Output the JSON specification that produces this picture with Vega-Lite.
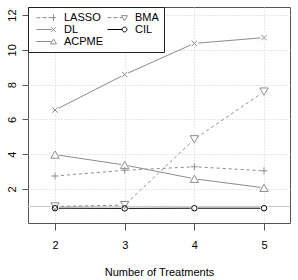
{
  "$schema": "https://vega.github.io/schema/vega-lite/v6.json",
  "width": 262,
  "height": 216,
  "autosize": {"type": "none"},
  "padding": {"left": 28, "top": 7, "right": 8, "bottom": 57},
  "background": "white",
  "config": {
    "font": "Liberation Sans",
    "view": {"stroke": "#555555", "strokeWidth": 1},
    "axis": {"domain": false, "tickColor": "#555555", "labelColor": "black", "labelFontSize": 11, "titleFontSize": 11, "titleFontWeight": "normal", "titleColor": "black", "gridColor": "#d0d0d0", "gridDash": [1, 2], "gridWidth": 1}
  },
  "data": {"values": [
    {"n": 2, "method": "LASSO", "value": 2.75},
    {"n": 3, "method": "LASSO", "value": 3.08},
    {"n": 4, "method": "LASSO", "value": 3.28},
    {"n": 5, "method": "LASSO", "value": 3.05},
    {"n": 2, "method": "BMA", "value": 1.0},
    {"n": 3, "method": "BMA", "value": 1.08},
    {"n": 4, "method": "BMA", "value": 4.86},
    {"n": 5, "method": "BMA", "value": 7.6},
    {"n": 2, "method": "DL", "value": 6.54},
    {"n": 3, "method": "DL", "value": 8.58},
    {"n": 4, "method": "DL", "value": 10.37},
    {"n": 5, "method": "DL", "value": 10.7},
    {"n": 2, "method": "ACPME", "value": 3.98},
    {"n": 3, "method": "ACPME", "value": 3.38},
    {"n": 4, "method": "ACPME", "value": 2.59},
    {"n": 5, "method": "ACPME", "value": 2.07},
    {"n": 2, "method": "CIL", "value": 0.9},
    {"n": 3, "method": "CIL", "value": 0.89},
    {"n": 4, "method": "CIL", "value": 0.9},
    {"n": 5, "method": "CIL", "value": 0.9}
  ]},
  "encoding": {
    "x": {"field": "n", "type": "quantitative", "scale": {"domain": [1.612, 5.373], "nice": false, "zero": false},
      "axis": {"values": [2, 3, 4, 5], "title": "Number of Treatments", "tickSize": 7, "labelPadding": 9, "titlePadding": 16, "grid": true}},
    "y": {"field": "value", "type": "quantitative", "scale": {"domain": [0.05, 12.46], "nice": false, "zero": false},
      "axis": {"values": [2, 4, 6, 8, 10, 12], "title": null, "tickSize": 6, "labelAngle": -90, "labelAlign": "center", "labelBaseline": "bottom", "labelPadding": 5, "grid": true}}
  },
  "layer": [
    {
      "data": {"values": [{"h": 1}]},
      "mark": {"type": "rule", "color": "#c8c8c8", "strokeWidth": 1},
      "encoding": {"y": {"field": "h", "type": "quantitative"}, "x": null}
    },
    {
      "transform": [{"filter": {"field": "method", "oneOf": ["LASSO", "BMA"]}}],
      "mark": {"type": "line", "strokeWidth": 1, "strokeDash": [3, 3]},
      "encoding": {
        "color": {"field": "method", "type": "nominal",
          "scale": {"domain": ["LASSO", "DL", "ACPME", "BMA", "CIL"], "range": ["#8c8c8c", "#8c8c8c", "#8c8c8c", "#8c8c8c", "#000000"]},
          "legend": {
            "title": null, "orient": "none", "legendX": 0, "legendY": 0, "columns": 2, "direction": "vertical",
            "strokeColor": "#222222", "fillColor": "white", "padding": 5,
            "symbolSize": 64, "symbolStrokeWidth": 1, "symbolFillColor": "transparent", "symbolDash": [],
            "labelFontSize": 11, "labelOffset": 20, "columnPadding": -4, "rowPadding": 0, "labelColor": "black",
            "encode": {"symbols": {"update": {
              "shape": {"signal": "datum.value == 'LASSO' ? 'M-0.5,0H0.5M1,0H2M2.5,0H3.5M3.3,0H4.4M3.75,-0.8V0.8' : datum.value == 'BMA' ? 'M-0.5,0H0.5M1,0H2M2.5,0H3.3M3,-0.5L4.5,-0.5L3.75,0.8Z' : datum.value == 'DL' ? 'M-0.5,0H3.3M3.2,-0.6L4.3,0.6M3.2,0.6L4.3,-0.6' : datum.value == 'CIL' ? 'M-0.5,0H3.2M4.35,0A0.6,0.6,0,1,1,3.15,0A0.6,0.6,0,1,1,4.35,0' : 'M-0.5,0H3.2M3.75,-0.6L4.5,0.6L3,0.6Z'"},
              "fill": {"value": "transparent"},
              "strokeDash": {"value": []}
            }}}
          }
        }
      }
    },
    {
      "transform": [{"filter": {"field": "method", "oneOf": ["DL", "ACPME", "CIL"]}}],
      "mark": {"type": "line", "strokeWidth": 1},
      "encoding": {
        "color": {"field": "method", "type": "nominal"}
      }
    },
    {
      "mark": {"type": "point", "shape": "circle", "filled": true, "color": "white", "size": 55, "opacity": 1},
      "encoding": {}
    },
    {
      "transform": [{"filter": {"field": "method", "equal": "LASSO"}}],
      "mark": {"type": "point", "filled": false, "strokeWidth": 1, "opacity": 1, "color": "#8c8c8c", "shape": "M-1,0H1M0,-1V1", "size": 50},
      "encoding": {}
    },
    {
      "transform": [{"filter": {"field": "method", "equal": "BMA"}}],
      "mark": {"type": "point", "filled": false, "strokeWidth": 1, "opacity": 1, "color": "#8c8c8c", "shape": "triangle-down", "size": 70},
      "encoding": {}
    },
    {
      "transform": [{"filter": {"field": "method", "equal": "DL"}}],
      "mark": {"type": "point", "filled": false, "strokeWidth": 1, "opacity": 1, "color": "#8c8c8c", "shape": "M-0.75,-0.75L0.75,0.75M-0.75,0.75L0.75,-0.75", "size": 50},
      "encoding": {}
    },
    {
      "transform": [{"filter": {"field": "method", "equal": "ACPME"}}],
      "mark": {"type": "point", "filled": false, "strokeWidth": 1, "opacity": 1, "color": "#8c8c8c", "shape": "triangle-up", "size": 70},
      "encoding": {}
    },
    {
      "transform": [{"filter": {"field": "method", "equal": "CIL"}}],
      "mark": {"type": "point", "filled": false, "strokeWidth": 1, "opacity": 1, "color": "#000000", "shape": "circle", "size": 30},
      "encoding": {}
    }
  ]
}
